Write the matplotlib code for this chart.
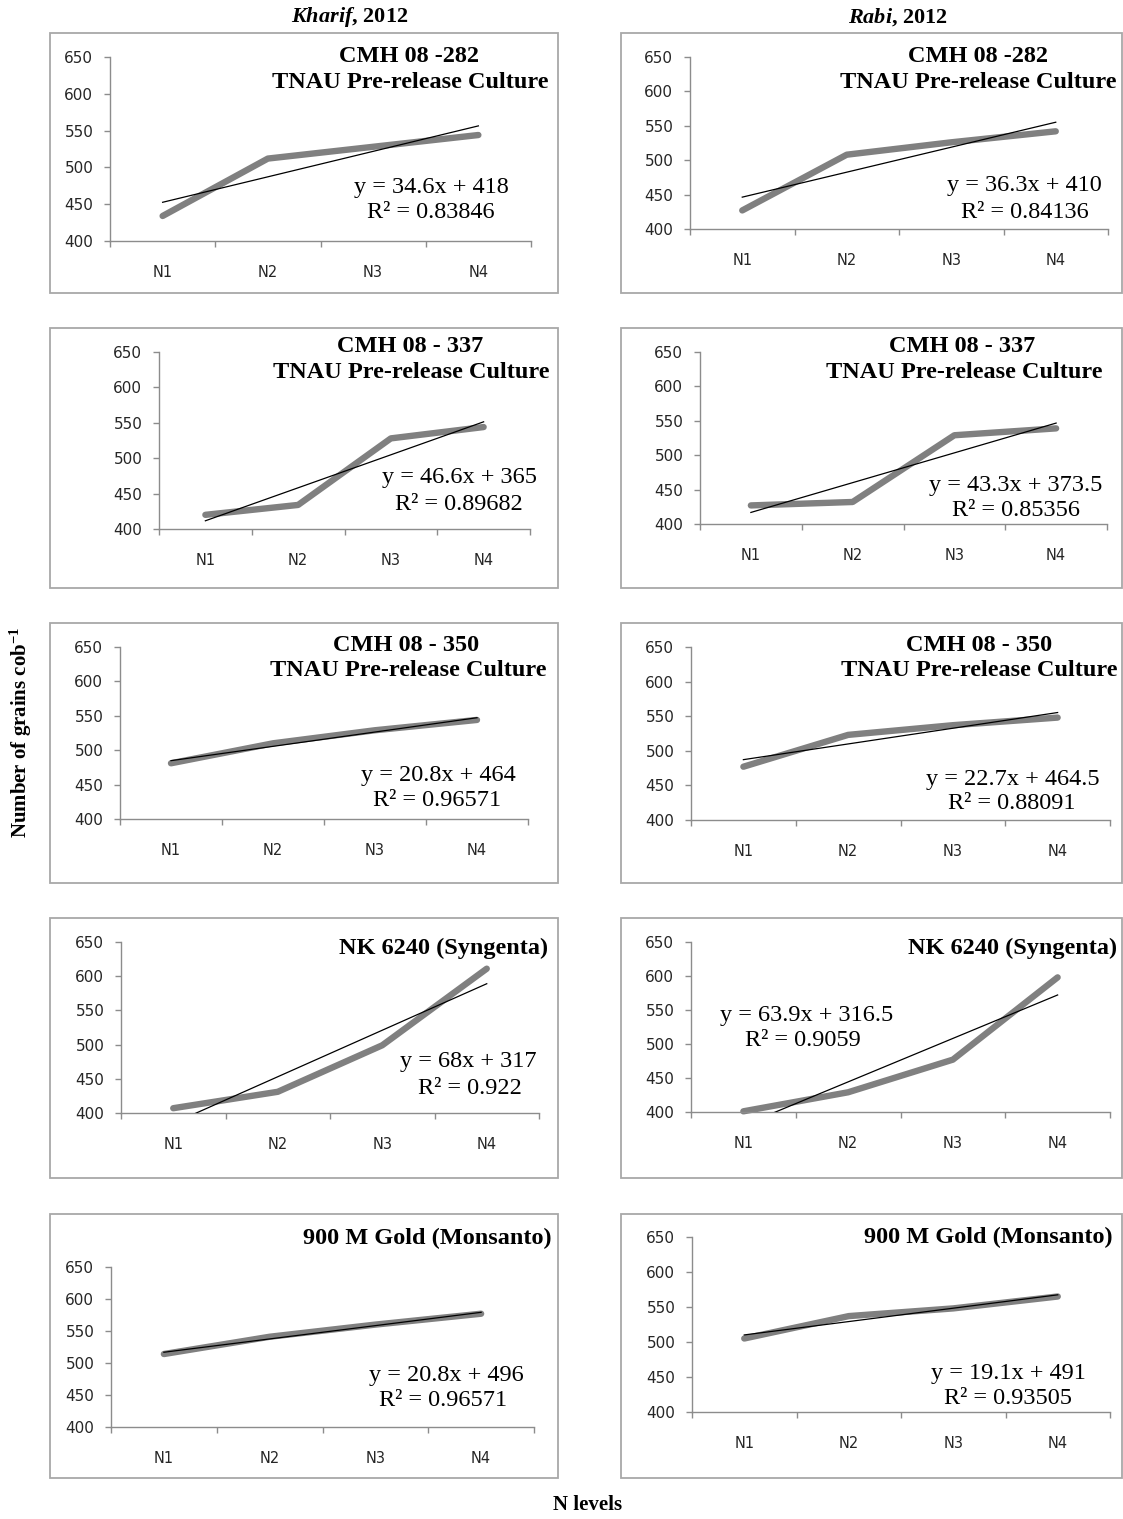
import numpy as np
import matplotlib
matplotlib.use("Agg")
import matplotlib.pyplot as plt
from matplotlib.patches import Rectangle

# ---------------- data ----------------
categories = ["N1", "N2", "N3", "N4"]
y_ticks = [400, 450, 500, 550, 600, 650]

# Number of grains per cob, Kharif 2012
kharif_282 = [434, 512, 528, 544]
kharif_337 = [420, 434, 528, 544]
kharif_350 = [481, 510, 529, 544]
kharif_nk6240 = [407, 431, 499, 611]
kharif_900m = [514, 541, 560, 577]

# Number of grains per cob, Rabi 2012
rabi_282 = [427, 508, 526, 542]
rabi_337 = [427, 432, 529, 539]
rabi_350 = [477, 523, 537, 548]
rabi_nk6240 = [401, 429, 477, 598]
rabi_900m = [505, 537, 548, 565]

# Linear trend lines (slope, intercept, R²)
kharif_slope = [34.6, 46.6, 20.8, 68, 20.8]
kharif_intercept = [418, 365, 464, 317, 496]
kharif_r2 = ["0.83846", "0.89682", "0.96571", "0.922", "0.96571"]

rabi_slope = [36.3, 43.3, 22.7, 63.9, 19.1]
rabi_intercept = [410, 373.5, 464.5, 316.5, 491]
rabi_r2 = ["0.84136", "0.85356", "0.88091", "0.9059", "0.93505"]

hybrid_titles = [
    ["CMH 08 -282", "TNAU Pre-release Culture"],
    ["CMH 08 - 337", "TNAU Pre-release Culture"],
    ["CMH 08 - 350", "TNAU Pre-release Culture"],
    ["NK 6240 (Syngenta)"],
    ["900 M Gold (Monsanto)"],
]

kharif_values = [kharif_282, kharif_337, kharif_350, kharif_nk6240, kharif_900m]
rabi_values = [rabi_282, rabi_337, rabi_350, rabi_nk6240, rabi_900m]

# ---------------- layout (pixels) ----------------
W, H = 1123, 1519
fig = plt.figure(figsize=(W / 100, H / 100), dpi=100)

SERIF = "Liberation Serif"
SANS = "DejaVu Sans"
AXIS_GREY = "#8c8c8c"
FRAME_GREY = "#a8a8a8"
LABEL_COLOR = "#262626"

# axes boxes: left, right, top(650), bottom(400)
axes_px = {
    ("k", 0): (110, 531, 57, 241),
    ("r", 0): (690, 1108, 57, 229),
    ("k", 1): (159, 530, 352, 529),
    ("r", 1): (700, 1107, 352, 524),
    ("k", 2): (120, 528, 647, 819),
    ("r", 2): (691, 1110, 647, 820),
    ("k", 3): (121, 539, 942, 1113),
    ("r", 3): (691, 1110, 942, 1112),
    ("k", 4): (111, 534, 1267, 1427),
    ("r", 4): (692, 1110, 1237, 1412),
}
frame_cols = {"k": (50, 558), "r": (621, 1122)}
frame_rows = [(33, 293), (328, 588), (623, 883), (918, 1178), (1214, 1478)]

# text anchors: title line centres, equation centre, R² centre
title_px = {
    ("k", 0): [(409, 57), (410, 83)],
    ("r", 0): [(978, 57), (978, 83)],
    ("k", 1): [(410, 347), (411, 372)],
    ("r", 1): [(962, 347), (964, 372)],
    ("k", 2): [(406, 645), (408, 670)],
    ("r", 2): [(979, 645), (979, 670)],
    ("k", 3): [(444, 948)],
    ("r", 3): [(1013, 948)],
    ("k", 4): [(427, 1238)],
    ("r", 4): [(988, 1237)],
}
eq_px = {
    ("k", 0): ((431, 187), (431, 213)),
    ("r", 0): ((1024, 185), (1025, 212)),
    ("k", 1): ((460, 478), (459, 505)),
    ("r", 1): ((1016, 486), (1016, 510)),
    ("k", 2): ((438, 775), (437, 800)),
    ("r", 2): ((1013, 779), (1012, 803)),
    ("k", 3): ((468, 1062), (470, 1088)),
    ("r", 3): ((807, 1015), (803, 1041)),
    ("k", 4): ((446, 1375), (443, 1401)),
    ("r", 4): ((1008, 1373), (1008, 1398)),
}


def fx(x):
    return x / W


def fy(y):
    return 1 - y / H


def fmt(v):
    return f"{v:g}"


def draw_panel(key, values, slope, intercept, r2, title_lines):
    l, r, t, b = axes_px[key]
    c0, c1 = frame_cols[key[0]]
    r0, r1 = frame_rows[key[1]]
    fig.add_artist(Rectangle((fx(c0), fy(r1)), fx(c1 - c0), (r1 - r0) / H,
                             transform=fig.transFigure, fill=False,
                             edgecolor=FRAME_GREY, linewidth=1.3))

    ax = fig.add_axes([fx(l), fy(b), fx(r - l), (b - t) / H])
    ax.set_facecolor("none")
    x = np.arange(1, len(categories) + 1)
    ax.plot(x, values, color="#808080", linewidth=4.6, solid_capstyle="round",
            solid_joinstyle="round", clip_on=False, zorder=2)
    xt = np.array([1.0, 4.0])
    ax.plot(xt, slope * xt + intercept, color="black", linewidth=0.9, zorder=3)

    ax.set_xlim(0.5, 4.5)
    ax.set_ylim(400, 650)
    ax.set_yticks(y_ticks)
    ax.set_xticks(x)
    ax.set_xticklabels(categories)
    ax.set_xticks(np.arange(0.5, 4.6, 1.0), minor=True)
    for side in ("top", "right"):
        ax.spines[side].set_visible(False)
    for side in ("left", "bottom"):
        ax.spines[side].set_color(AXIS_GREY)
        ax.spines[side].set_linewidth(1.0)
    ax.tick_params(axis="x", which="major", length=0, pad=17,
                   labelsize=10.5, labelcolor=LABEL_COLOR)
    ax.tick_params(axis="x", which="minor", length=4, direction="out",
                   color=AXIS_GREY, width=1.0)
    ax.tick_params(axis="y", which="major", length=4, direction="out",
                   color=AXIS_GREY, width=1.0, pad=8,
                   labelsize=11, labelcolor=LABEL_COLOR)
    for lab in ax.get_xticklabels() + ax.get_yticklabels():
        lab.set_fontfamily(SANS)

    for (tx, ty), line in zip(title_px[key], title_lines):
        fig.text(fx(tx), fy(ty), line, ha="center", va="center",
                 family=SERIF, weight="bold", fontsize=17.5)
    (ex, ey), (rx, ry) = eq_px[key]
    fig.text(fx(ex), fy(ey), f"y = {fmt(slope)}x + {fmt(intercept)}",
             ha="center", va="center", family=SERIF, fontsize=17.5)
    fig.text(fx(rx), fy(ry), f"R² = {r2}", ha="center", va="center",
             family=SERIF, fontsize=17.5)


for i in range(5):
    draw_panel(("k", i), kharif_values[i], kharif_slope[i],
               kharif_intercept[i], kharif_r2[i], hybrid_titles[i])
    draw_panel(("r", i), rabi_values[i], rabi_slope[i],
               rabi_intercept[i], rabi_r2[i], hybrid_titles[i])

# column headers
plt.rcParams["mathtext.fontset"] = "custom"
plt.rcParams["mathtext.rm"] = "Liberation Serif:bold"
plt.rcParams["mathtext.it"] = "Liberation Serif:bold:italic"
plt.rcParams["mathtext.bf"] = "Liberation Serif:bold"

fig.text(fx(350), fy(17), r"$\mathit{Kharif}$, 2012", ha="center", va="center",
         family=SERIF, weight="bold", fontsize=16)
fig.text(fx(898), fy(17), r"$\mathit{Rabi}$, 2012", ha="center", va="center",
         family=SERIF, weight="bold", fontsize=16)

# shared axis titles
fig.text(fx(21), fy(732), r"Number of grains cob$^{\mathrm{-1}}$", rotation=90,
         ha="center", va="center", family=SERIF, weight="bold", fontsize=15)
fig.text(fx(588), fy(1505), "N levels", ha="center", va="center",
         family=SERIF, weight="bold", fontsize=15)

fig.savefig("out.png", dpi=100, facecolor="white")
